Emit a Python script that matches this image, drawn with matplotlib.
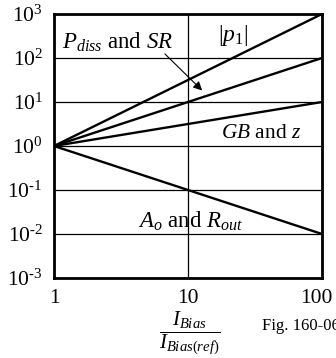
import matplotlib
matplotlib.use("Agg")
import matplotlib.pyplot as plt
import matplotlib.transforms as mtransforms
import numpy as np

plt.rcParams['font.family'] = ['Liberation Serif', 'DejaVu Serif']
plt.rcParams['mathtext.fontset'] = 'custom'
plt.rcParams['mathtext.rm'] = 'Liberation Serif'
plt.rcParams['mathtext.it'] = 'Liberation Serif:italic'

# Data: normalized quantities vs bias current ratio
bias_ratio = [1, 100]
p1_mag = [1, 1000]        # |p1| ~ I^1.5
pdiss_sr = [1, 100]       # Pdiss and SR ~ I
gb_z = [1, 10]            # GB and z ~ I^0.5
ao_rout = [1, 0.01]       # Ao and Rout ~ 1/I

x_ticks = [1, 10, 100]
x_ticklabels = ['1', '10', '100']
y_ticks = [1e-3, 1e-2, 1e-1, 1e0, 1e1, 1e2, 1e3]
y_exps = ['\u20103', '\u20102', '\u20101', '0', '1', '2', '3']
y_ticklabels = ['10$^{\\mathrm{%s}}$' % e for e in y_exps]

fig = plt.figure(figsize=(3.36, 3.58), dpi=100)
ax = fig.add_axes([54/336, 1 - 278/358, 268/336, 264/358])

for ys in (p1_mag, pdiss_sr, gb_z, ao_rout):
    ax.plot(bias_ratio, ys, color='black', lw=1.7, solid_capstyle='butt')

ax.set_xscale('log')
ax.set_yscale('log')
ax.set_xlim(1, 100)
ax.set_ylim(1e-3, 1e3)
ax.set_xticks(x_ticks)
ax.set_xticklabels(x_ticklabels)
ax.set_yticks(y_ticks)
ax.set_yticklabels(y_ticklabels)
ax.minorticks_off()
ax.tick_params(length=0, labelsize=15.5)
ax.tick_params(axis='x', pad=8)
ax.tick_params(axis='y', pad=8)
ax.grid(True, which='major', color='black', lw=0.9)
for sp in ax.spines.values():
    sp.set_linewidth(2)

# last x label sits a little left of its tick in the original
last = ax.get_xticklabels()[-1]
last.set_transform(last.get_transform() +
                   mtransforms.ScaledTranslation(-6/100, 0, fig.dpi_scale_trans))

ax.text(3.0, 230, r'$P_{diss}$ and $SR$', fontsize=16.5, ha='center', va='center')
ax.text(21.7, 330, r'$|p_1|$', fontsize=17, ha='center', va='center')
ax.text(35, 1.97, r'$GB$ and $z$', fontsize=15.4, ha='center', va='center')
ax.text(10.4, 0.0197, r'$A_o$ and $R_{out}$', fontsize=16.5, ha='center', va='center')
ax.annotate('', xy=(13.2, 16.5), xytext=(6.5, 137),
            arrowprops=dict(arrowstyle='-|>', color='black', lw=0.8,
                            mutation_scale=13))

fig.text(190/336, 1 - 333/358, r'$\dfrac{I_{Bias}}{I_{Bias(ref)}}$',
         fontsize=15, ha='center', va='center')
fig.text(262/336, 1 - 326/358, 'Fig. 160-06', fontsize=12, ha='left', va='center')

fig.savefig('out.png', dpi=100)
